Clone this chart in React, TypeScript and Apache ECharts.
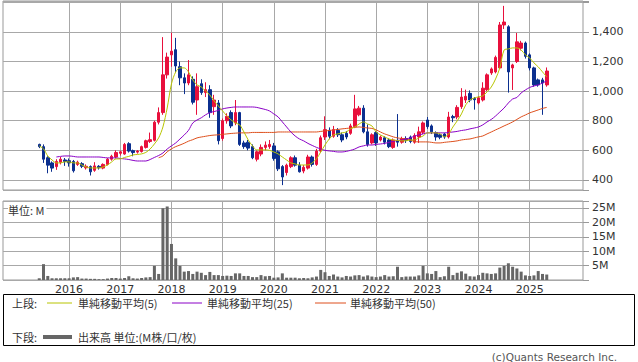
import React, { useEffect, useRef } from "react";
import * as echarts from "echarts";

// ---- axis categories & labels ----
const axisStartYear = 2014;
const axisStartMonth = 10;
const axisEndYear = 2026;
const axisEndMonth = 1;
const firstDataMonth = "2015-06";
const yearLabels = ["2016", "2017", "2018", "2019", "2020", "2021", "2022", "2023", "2024", "2025"];
const priceTickLabels = [400, 600, 800, 1000, 1200, 1400];
const volumeTickLabels = [5, 10, 15, 20, 25];

// ---- monthly candles from 2015-06: [open, close, low, high] ----
const ohlc: number[][] = [
  [640, 625, 615, 645], [625, 540, 515, 640], [550, 500, 445, 560], [515, 480, 455, 525],
  [490, 525, 468, 540], [520, 540, 505, 555], [535, 525, 495, 548], [530, 515, 490, 545],
  [525, 462, 450, 535], [505, 520, 495, 530], [510, 492, 480, 520], [482, 492, 470, 505],
  [490, 455, 430, 498], [465, 495, 455, 520], [492, 482, 470, 500], [480, 505, 472, 512],
  [505, 540, 498, 548], [540, 560, 530, 570], [555, 585, 545, 600], [580, 590, 565, 598],
  [575, 640, 570, 650], [645, 595, 585, 655], [598, 585, 560, 605], [588, 595, 578, 602],
  [592, 625, 585, 632], [620, 665, 612, 672], [660, 672, 650, 720], [668, 790, 660, 800],
  [790, 855, 775, 890], [855, 1110, 840, 1365], [1110, 1230, 1085, 1260], [1245, 1270, 1165, 1395],
  [1280, 1170, 1130, 1360], [1165, 1090, 1040, 1200], [1090, 1055, 980, 1120], [1055, 1110, 1040, 1210],
  [1080, 925, 910, 1100], [940, 1030, 840, 1120], [1050, 990, 975, 1080], [990, 1010, 960, 1060],
  [1010, 855, 820, 1040], [895, 940, 840, 975], [920, 665, 640, 940], [680, 800, 665, 815],
  [800, 830, 780, 850], [855, 765, 750, 870], [785, 855, 770, 940], [855, 640, 630, 860],
  [650, 625, 610, 665], [655, 615, 600, 670], [625, 550, 540, 640], [540, 590, 525, 600],
  [575, 620, 560, 640], [620, 635, 600, 660], [625, 640, 610, 670], [630, 545, 530, 650],
  [590, 475, 460, 600], [490, 420, 365, 500], [450, 500, 430, 510], [490, 550, 480, 560],
  [550, 500, 490, 565], [500, 455, 450, 520], [460, 485, 445, 500], [480, 555, 470, 570],
  [555, 505, 490, 565], [505, 595, 495, 610], [595, 685, 585, 700], [690, 740, 670, 830],
  [735, 695, 675, 755], [695, 740, 685, 765], [735, 705, 690, 750], [705, 670, 655, 720],
  [715, 690, 675, 730], [715, 765, 705, 780], [760, 880, 750, 975], [840, 885, 830, 900],
  [885, 725, 715, 905], [725, 640, 625, 775], [650, 705, 640, 715], [720, 650, 630, 730],
  [670, 690, 660, 700], [685, 655, 640, 695], [670, 625, 615, 680], [620, 670, 610, 680],
  [665, 655, 625, 845], [655, 680, 645, 692], [680, 668, 650, 695], [690, 660, 648, 700],
  [655, 700, 645, 715], [690, 725, 650, 760], [722, 785, 710, 795], [805, 760, 745, 825],
  [765, 725, 710, 775], [720, 690, 665, 728], [705, 688, 675, 715], [710, 690, 678, 718],
  [690, 825, 680, 860], [828, 820, 790, 840], [825, 890, 810, 905], [895, 960, 880, 1020],
  [940, 965, 920, 1010], [985, 940, 925, 1005], [950, 942, 875, 960], [920, 955, 910, 965],
  [940, 1020, 930, 1060], [1010, 1110, 1000, 1120], [1123, 1150, 1110, 1160], [1130, 1228, 1120, 1240],
  [1157, 1447, 1150, 1467], [1447, 1467, 1420, 1576], [1435, 1130, 990, 1445], [1157, 1177, 1008, 1185],
  [1200, 1333, 1190, 1393], [1290, 1325, 1275, 1340], [1325, 1235, 1220, 1335], [1245, 1157, 1140, 1255],
  [1157, 1042, 1030, 1165], [1076, 1042, 1030, 1085], [1076, 1055, 840, 1090], [1042, 1136, 1030, 1160],
];

// ---- monthly volume (millions) ----
const volumeM: number[] = [
  0.6, 5.5, 1.4, 0.6, 0.6, 0.6, 0.6, 0.6, 0.9, 1.0,
  0.5, 0.5, 0.4, 0.4, 0.3, 0.3, 0.5, 0.7, 0.7, 0.5,
  0.7, 1.3, 0.6, 0.5, 0.7, 0.9, 1.0, 4.9, 2.1, 24.9,
  25.5, 12.5, 7.5, 4.9, 2.9, 3.1, 2.1, 2.9, 2.5, 1.7,
  2.8, 1.7, 1.7, 1.4, 1.5, 1.4, 2.3, 2.3, 1.4, 1.4,
  1.0, 1.0, 1.7, 1.3, 1.4, 0.8, 0.9, 2.3, 0.8, 0.8,
  0.8, 0.6, 0.7, 0.6, 0.9, 1.2, 3.5, 2.7, 1.4, 1.9,
  1.2, 0.9, 1.4, 1.2, 1.6, 1.7, 1.2, 1.6, 1.2, 1.0,
  1.2, 1.7, 1.2, 1.3, 4.6, 1.0, 1.2, 1.2, 1.2, 1.6,
  4.9, 2.3, 2.1, 3.1, 1.0, 1.3, 4.6, 1.7, 2.5, 3.0,
  2.2, 1.3, 1.2, 1.7, 2.5, 2.3, 2.1, 2.3, 4.3, 4.9,
  5.8, 4.6, 4.0, 2.9, 1.6, 1.4, 1.6, 3.1, 2.1, 1.9,
];

// ---- moving averages (from 2015-06) ----
const ma5: (number | null)[] = [
  630, 610, 562, 535, 515, 515, 522, 522, 515, 515,
  501, 488, 481, 481, 481, 488, 501, 522, 542, 542,
  552, 559, 569, 572, 576, 586, 609, 643, 684, 758,
  886, 1049, 1130, 1157, 1157, 1130, 1076, 1042, 1028, 1001,
  974, 934, 900, 866, 832, 805, 785, 772, 724, 670,
  630, 603, 603, 603, 600, 589, 576, 555, 535, 515,
  508, 501, 501, 501, 515, 542, 589, 636, 677, 704,
  711, 718, 724, 745, 758, 778, 792, 778, 765, 724,
  704, 691, 677, 670, 667, 664, 664, 670, 670, 684,
  697, 718, 718, 718, 711, 691, 711, 758, 799, 846,
  907, 941, 954, 961, 968, 995, 1028, 1082, 1157, 1278,
  1285, 1292, 1292, 1278, 1245, 1224, 1191, 1164, 1130, 1096,
];
const ma25: (number | null)[] = [
  null, null, null, null, 555, 559, 562, 562, 559, 555,
  555, 555, 555, 555, 555, 552, 549, 549, 549, 545,
  542, 538, 532, 528, 528, 528, 538, 552, 565, 582,
  609, 630, 650, 677, 704, 735, 785, 805, 820, 840,
  855, 862, 870, 880, 886, 890, 893, 893, 893, 893,
  893, 890, 883, 876, 866, 846, 826, 792, 758, 724,
  697, 677, 664, 647, 633, 620, 609, 600, 596, 593,
  589, 589, 593, 600, 609, 623, 630, 636, 636, 640,
  643, 647, 654, 660, 667, 670, 677, 684, 697, 704,
  711, 718, 718, 718, 718, 718, 721, 724, 728, 734,
  738, 745, 751, 758, 772, 792, 809, 832, 859, 886,
  920, 947, 957, 988, 1008, 1025, 1035, 1042, 1055, 1069,
];
const ma50: (number | null)[] = [
  null, null, null, null, null, null, null, null, null, null,
  null, null, null, null, null, null, null, null, null, null,
  null, null, null, null, null, null, null, null, 550, 562,
  590, 610, 625, 636, 648, 662, 672, 684, 690, 695,
  700, 703, 705, 708, 711, 714, 716, 718, 718, 718,
  721, 721, 721, 721, 721, 721, 724, 724, 724, 724,
  724, 724, 724, 724, 724, 724, 728, 731, 734, 738,
  741, 745, 748, 751, 755, 758, 755, 751, 748, 738,
  724, 711, 701, 691, 684, 680, 677, 670, 660, 657,
  657, 657, 654, 650, 650, 654, 657, 660, 664, 670,
  674, 677, 684, 691, 697, 711, 724, 738, 751, 765,
  778, 792, 809, 826, 839, 853, 863, 873, 883, 890,
];

const UP = "#e8103c";
const DOWN = "#0b2f8f";
const GRIDLINE = "#a8a8a8";
const NUM_FONT = "'DejaVu Sans', Verdana, sans-serif";
const JP_FONT = "'Noto Sans CJK JP', 'DejaVu Sans', sans-serif";

function buildMonths(): string[] {
  const out: string[] = [];
  let y = axisStartYear;
  let m = axisStartMonth;
  while (y < axisEndYear || (y === axisEndYear && m <= axisEndMonth)) {
    out.push(`${y}-${String(m).padStart(2, "0")}`);
    m++;
    if (m > 12) {
      m = 1;
      y++;
    }
  }
  return out;
}

export default function App() {
  const ref = useRef<HTMLDivElement>(null);

  useEffect(() => {
    if (!ref.current) return;
    const chart = echarts.init(ref.current, undefined, { renderer: "svg" });
    const months = buildMonths();
    const off = months.indexOf(firstDataMonth);
    const pad = (arr: (number | null)[]) => {
      const full: (number | null)[] = months.map(() => null);
      arr.forEach((v, i) => (full[off + i] = v));
      return full;
    };
    const candleRows = ohlc.map((d, i) => [months[off + i], d[0], d[1], d[2], d[3]]);
    const yearMonths = yearLabels.map((y) => `${y}-01`);
    const yearLines = yearMonths.map((m) => ({ xAxis: m }));
    const markLineCommon = {
      silent: true,
      symbol: "none",
      z: 1,
      label: { show: false },
      lineStyle: { color: GRIDLINE, width: 1, type: "solid" },
      emphasis: { disabled: true },
      animation: false,
    };
    const maLine = (data: (number | null)[], color: string) => ({
      type: "line",
      xAxisIndex: 0,
      yAxisIndex: 0,
      data: pad(data),
      showSymbol: false,
      smooth: 0.3,
      lineStyle: { color, width: 1 },
      itemStyle: { color },
      z: 3,
      silent: true,
    });

    const legendY1 = 303;
    const legendY2 = 337;
    const option: any = {
      animation: false,
      backgroundColor: "#ffffff",
      textStyle: { fontFamily: NUM_FONT },
      dataset: [{ source: candleRows, sourceHeader: false }],
      grid: [
        { left: 3, top: 1, width: 580, height: 189, show: true, borderColor: "#999", borderWidth: 1, backgroundColor: "transparent" },
        { left: 3, top: 201, width: 580, height: 79, show: true, borderColor: "#999", borderWidth: 1, backgroundColor: "transparent" },
      ],
      xAxis: [
        {
          type: "category",
          gridIndex: 0,
          data: months,
          boundaryGap: true,
          axisLine: { show: false },
          axisTick: { show: false },
          axisLabel: { show: false },
          splitLine: { show: false },
        },
        {
          type: "category",
          gridIndex: 1,
          data: months,
          boundaryGap: true,
          axisLine: { show: false },
          axisTick: { show: false },
          splitLine: { show: false },
          axisLabel: {
            show: true,
            interval: (_i: number, v: string) => yearMonths.includes(v),
            formatter: (v: string) => v.slice(0, 4),
            fontSize: 11,
            color: "#333",
            margin: 4,
            fontFamily: NUM_FONT,
          },
        },
      ],
      yAxis: [
        {
          type: "value",
          gridIndex: 0,
          position: "right",
          min: 332,
          max: 1609,
          splitNumber: 6,
          axisLine: { show: false },
          axisTick: { show: true, length: 6, lineStyle: { color: "#999" } },
          splitLine: { show: true, lineStyle: { color: GRIDLINE, width: 1 } },
          axisLabel: {
            formatter: (v: number) => (priceTickLabels.includes(v) ? v.toLocaleString("en-US") : ""),
            fontSize: 11,
            color: "#333",
            margin: 9,
            fontFamily: NUM_FONT,
          },
        },
        {
          type: "value",
          gridIndex: 1,
          position: "right",
          min: 0,
          max: 27.4,
          interval: 5,
          axisLine: { show: false },
          axisTick: { show: true, length: 6, lineStyle: { color: "#999" } },
          splitLine: { show: true, lineStyle: { color: GRIDLINE, width: 1 } },
          axisLabel: {
            formatter: (v: number) => (volumeTickLabels.includes(v) ? `${v}M` : ""),
            fontSize: 11,
            color: "#333",
            margin: 9,
            fontFamily: NUM_FONT,
          },
        },
      ],
      series: [
        {
          type: "candlestick",
          datasetIndex: 0,
          xAxisIndex: 0,
          yAxisIndex: 0,
          encode: { x: 0, y: [1, 2, 3, 4] },
          barWidth: 3,
          silent: true,
          itemStyle: { color: UP, color0: DOWN, borderColor: UP, borderColor0: DOWN, borderWidth: 1 },
          markLine: { ...markLineCommon, data: yearLines },
        },
        maLine(ma50, "#dd4f1c"),
        maLine(ma25, "#8a00c6"),
        maLine(ma5, "#b7c400"),
        {
          type: "bar",
          xAxisIndex: 1,
          yAxisIndex: 1,
          data: pad(volumeM),
          barWidth: 3,
          silent: true,
          itemStyle: { color: "#666666" },
          markLine: { ...markLineCommon, data: yearLines },
        },
      ],
      graphic: {
        elements: [
          {
            type: "text",
            x: 8,
            y: 210,
            style: { text: "単位: M", fontSize: 11, fontFamily: JP_FONT, fill: "#333", verticalAlign: "middle", backgroundColor: "#fff", padding: [0, 2, 0, 0] },
            z: 10,
          },
          {
            type: "rect",
            shape: { x: 3.5, y: 294.5, width: 631, height: 51 },
            style: { fill: "#fff", stroke: "#000", lineWidth: 1 },
            z: 5,
          },
          { type: "text", x: 12, y: legendY1, style: { text: "上段:", fontSize: 11, fontFamily: JP_FONT, fill: "#333", verticalAlign: "middle" }, z: 6 },
          { type: "line", shape: { x1: 47, y1: legendY1, x2: 72, y2: legendY1 }, style: { stroke: "#b7c400", lineWidth: 1 }, z: 6 },
          { type: "text", x: 78, y: legendY1, style: { text: "単純移動平均(5)", fontSize: 11, fontFamily: JP_FONT, fill: "#333", verticalAlign: "middle" }, z: 6 },
          { type: "line", shape: { x1: 172, y1: legendY1, x2: 202, y2: legendY1 }, style: { stroke: "#8a00c6", lineWidth: 1 }, z: 6 },
          { type: "text", x: 207, y: legendY1, style: { text: "単純移動平均(25)", fontSize: 11, fontFamily: JP_FONT, fill: "#333", verticalAlign: "middle" }, z: 6 },
          { type: "line", shape: { x1: 315, y1: legendY1, x2: 346, y2: legendY1 }, style: { stroke: "#dd4f1c", lineWidth: 1 }, z: 6 },
          { type: "text", x: 350, y: legendY1, style: { text: "単純移動平均(50)", fontSize: 11, fontFamily: JP_FONT, fill: "#333", verticalAlign: "middle" }, z: 6 },
          { type: "text", x: 12, y: legendY2, style: { text: "下段:", fontSize: 11, fontFamily: JP_FONT, fill: "#333", verticalAlign: "middle" }, z: 6 },
          { type: "line", shape: { x1: 43, y1: legendY2, x2: 72, y2: legendY2 }, style: { stroke: "#666", lineWidth: 4 }, z: 6 },
          { type: "text", x: 78, y: legendY2, style: { text: "出来高 単位:(M株/口/枚)", fontSize: 11, fontFamily: JP_FONT, fill: "#333", verticalAlign: "middle" }, z: 6 },
          {
            type: "text",
            x: 617,
            y: 357,
            style: { text: "(c)Quants Research Inc.", fontSize: 10.5, fontFamily: NUM_FONT, fill: "#555", align: "right", verticalAlign: "middle" },
            z: 6,
          },
        ],
      },
    };
    chart.setOption(option);
    return () => chart.dispose();
  }, []);

  return (
    <div
      ref={ref}
      style={{ position: "absolute", left: 0, top: 0, width: 638, height: 362, background: "#fff" }}
    />
  );
}
